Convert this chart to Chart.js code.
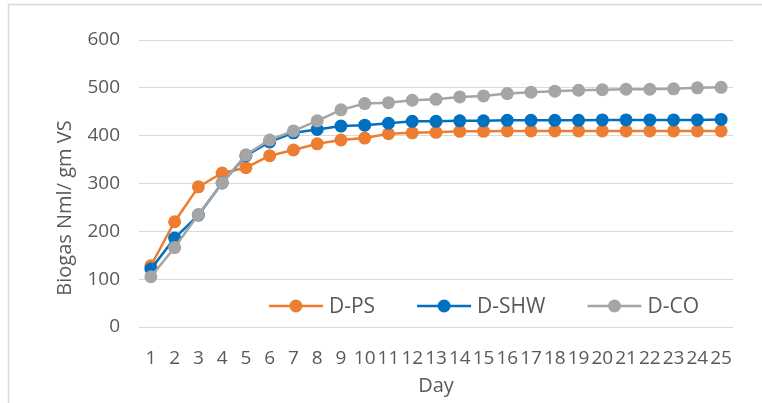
<!DOCTYPE html>
<html>
<head>
<meta charset="utf-8">
<script src="https://cdn.jsdelivr.net/npm/chart.js@4.4.1/dist/chart.umd.min.js"></script>
<style>
  html, body { margin: 0; padding: 0; background: #fff; }
  #chart { display: block; }
</style>
</head>
<body>
<canvas id="chart" width="762" height="403"></canvas>
<script>
// Biogas yield per day
const days = ['1','2','3','4','5','6','7','8','9','10','11','12','13','14','15','16','17','18','19','20','21','22','23','24','25'];
const dPS  = [128, 220, 293, 322, 333, 358, 370, 383, 391, 395, 404, 406, 407, 409, 409, 410, 410, 410, 410, 410, 410, 410, 410, 410, 410];
const dSHW = [121, 186, 234, 301, 358, 387, 406, 413, 420, 422, 426, 430, 430, 431, 431, 432, 432, 432, 432, 433, 433, 433, 433, 433, 434];
const dCO  = [105, 166, 235, 301, 360, 391, 410, 431, 454, 467, 469, 474, 476, 481, 483, 488, 491, 493, 495, 496, 497, 497, 498, 500, 501];
const yTicks = [0, 100, 200, 300, 400, 500, 600];

const TEXT = '#595959';
const GRID = '#d9d9d9';
const FONT = '"Open Sans", "Noto Sans", sans-serif';

Chart.defaults.font.family = FONT;
Chart.defaults.color = TEXT;

// frame, axis titles and the in-plot legend
const extras = {
    id: 'extras',
    beforeDraw(chart) {
        const ctx = chart.ctx;
        ctx.save();
        ctx.fillStyle = '#fff';
        ctx.fillRect(0, 0, chart.width, chart.height);
        ctx.strokeStyle = GRID;
        ctx.lineWidth = 1.5;
        ctx.strokeRect(8.5, 4.5, chart.width + 20, chart.height + 20);
        ctx.restore();
    },
    afterDraw(chart) {
        const ctx = chart.ctx;
        const area = chart.chartArea;
        ctx.save();
        ctx.fillStyle = TEXT;
        ctx.textAlign = 'center';
        ctx.textBaseline = 'middle';
        ctx.font = '20px ' + FONT;
        ctx.fillText('Day', (area.left + area.right) / 2, 386);
        ctx.translate(65, 208);
        ctx.rotate(-Math.PI / 2);
        ctx.fillText('Biogas Nml/ gm VS', 0, 0);
        ctx.restore();

        // legend
        ctx.save();
        ctx.font = '21px ' + FONT;
        ctx.textBaseline = 'middle';
        ctx.textAlign = 'left';
        const lineLen = 54, gapText = 6, gapItem = 42, y = 306;
        const items = chart.data.datasets.map(ds => ({
            label: ds.label, color: ds.borderColor, w: ctx.measureText(ds.label).width
        }));
        const total = items.reduce((s, it) => s + lineLen + gapText + it.w, 0) + gapItem * (items.length - 1);
        let x = 484 - total / 2;
        items.forEach(it => {
            ctx.strokeStyle = it.color;
            ctx.lineWidth = 2.5;
            ctx.beginPath();
            ctx.moveTo(x, y);
            ctx.lineTo(x + lineLen, y);
            ctx.stroke();
            ctx.fillStyle = it.color;
            ctx.beginPath();
            ctx.arc(x + lineLen / 2, y, 6.5, 0, Math.PI * 2);
            ctx.fill();
            ctx.fillStyle = TEXT;
            ctx.fillText(it.label, x + lineLen + gapText, y + 1);
            x += lineLen + gapText + it.w + gapItem;
        });
        ctx.restore();
    }
};

function series(label, data, color, order) {
    return {
        label, data, order,
        borderColor: color,
        backgroundColor: color,
        borderWidth: 2.5,
        pointRadius: 6.5,
        pointHoverRadius: 6.5,
        pointBorderWidth: 0,
        tension: 0,
    };
}

new Chart(document.getElementById('chart'), {
    type: 'line',
    data: {
        labels: days,
        datasets: [
            series('D-PS', dPS, '#ed7d31', 2),
            series('D-SHW', dSHW, '#0070c0', 1),
            series('D-CO', dCO, '#a5a5a5', 0),
        ],
    },
    options: {
        responsive: false,
        animation: false,
        layout: { padding: { top: 40, right: 29, left: 0, bottom: 0 } },
        plugins: { legend: { display: false }, tooltip: { enabled: false } },
        scales: {
            x: {
                offset: true,
                grid: { display: false },
                border: { display: false },
                ticks: { font: { size: 19 }, padding: 12, maxRotation: 0, autoSkip: false },
                afterFit(scale) { scale.height = 76; },
            },
            y: {
                min: 0,
                max: 600,
                afterBuildTicks(scale) { scale.ticks = yTicks.map(v => ({ value: v })); },
                grid: { color: GRID, lineWidth: 1, drawTicks: false },
                border: { display: false },
                ticks: { font: { size: 19 }, padding: 19 },
                afterFit(scale) { scale.width = 139; },
            },
        },
    },
    plugins: [extras],
});
</script>
</body>
</html>
